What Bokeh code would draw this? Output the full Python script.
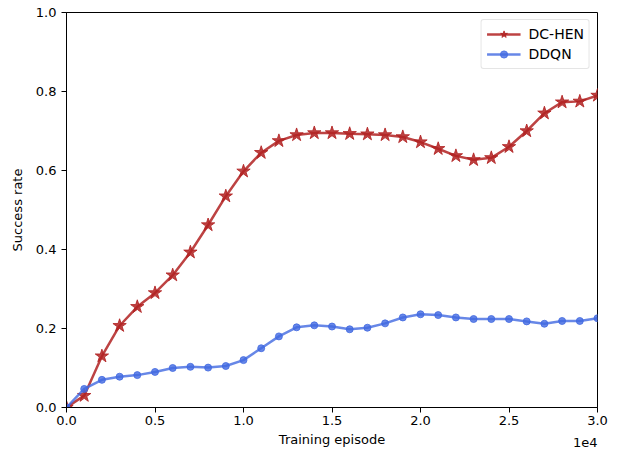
import numpy as np
from bokeh.plotting import figure
from bokeh.models import Range1d, FixedTicker, PrintfTickFormatter, Label, Legend, LegendItem
from bokeh.embed import file_html
from bokeh.resources import INLINE

episodes = list(range(0, 30001, 1000))
dc_hen = [0.0, 0.03, 0.13, 0.207, 0.255, 0.29, 0.335, 0.393, 0.462, 0.535, 0.598,
          0.645, 0.675, 0.69, 0.695, 0.695, 0.693, 0.692, 0.69, 0.685, 0.672,
          0.655, 0.637, 0.627, 0.632, 0.66, 0.70, 0.745, 0.773, 0.775, 0.79]
ddqn = [0.0, 0.047, 0.07, 0.078, 0.082, 0.09, 0.1, 0.103, 0.101, 0.105, 0.12,
        0.15, 0.18, 0.203, 0.208, 0.205, 0.198, 0.202, 0.213, 0.228, 0.236,
        0.234, 0.228, 0.224, 0.224, 0.224, 0.218, 0.212, 0.219, 0.219, 0.226]
x_ticks = [0.0, 0.5, 1.0, 1.5, 2.0, 2.5, 3.0]
y_ticks = [0.0, 0.2, 0.4, 0.6, 0.8, 1.0]

x = np.array(episodes) / 1e4

FONT = "DejaVu Sans"
RED = "#b22222"
BLUE = "#4169e1"

p = figure(width=620, height=458, output_backend="svg", toolbar_location=None,
           x_range=Range1d(0, 3.0), y_range=Range1d(0, 1.0),
           min_border_left=66, min_border_right=23, min_border_top=12, min_border_bottom=43)
p.xgrid.visible = False
p.ygrid.visible = False
p.outline_line_color = "black"
p.outline_line_width = 1
p.outline_line_alpha = 1

for ax in (p.xaxis[0], p.yaxis[0]):
    ax.major_label_text_font = FONT
    ax.major_label_text_font_size = "13px"
    ax.major_label_text_color = "black"
    ax.axis_label_text_font = FONT
    ax.axis_label_text_font_size = "13px"
    ax.axis_label_text_font_style = "normal"
    ax.axis_label_text_color = "black"
    ax.minor_tick_line_color = None
    ax.major_tick_out = 5
    ax.major_tick_in = 0
    ax.axis_line_color = "black"
    ax.formatter = PrintfTickFormatter(format="%.1f")

p.xaxis.ticker = FixedTicker(ticks=x_ticks)
p.yaxis.ticker = FixedTicker(ticks=y_ticks)
p.xaxis.axis_label = "Training episode"
p.yaxis.axis_label = "Success rate"
p.xaxis.axis_label_standoff = 4
p.xaxis.major_label_standoff = 3
p.yaxis.axis_label_standoff = 8

l1 = p.line(x, dc_hen, line_color=RED, line_width=2.5, line_alpha=0.85)
s1 = p.scatter(x, dc_hen, marker="star", size=14, fill_color=RED, line_color=RED,
               fill_alpha=0.85, line_alpha=0.85)
l2 = p.line(x, ddqn, line_color=BLUE, line_width=2.5, line_alpha=0.8)
s2 = p.scatter(x, ddqn, marker="circle", size=7, fill_color=BLUE, line_color=BLUE,
               fill_alpha=0.8, line_alpha=0.8)

legend = Legend(items=[LegendItem(label="DC-HEN", renderers=[l1, s1]),
                       LegendItem(label="DDQN", renderers=[l2, s2])],
                location="top_right")
legend.label_text_font = FONT
legend.label_text_font_size = "14px"
legend.label_text_color = "black"
legend.border_line_color = "#cccccc"
legend.border_line_width = 1
legend.border_radius = 3
legend.margin = 7
legend.padding = 5
legend.spacing = 2
legend.glyph_width = 34
legend.label_standoff = 8
legend.label_height = 18
legend.glyph_height = 18
p.add_layout(legend)

p.add_layout(Label(x=597, y=442, x_units="canvas", y_units="canvas", text="1e4",
                   text_align="right", text_baseline="middle",
                   text_font=FONT, text_font_size="13px", text_color="black"), "below")

open("out.html", "w").write(file_html(p, INLINE))
